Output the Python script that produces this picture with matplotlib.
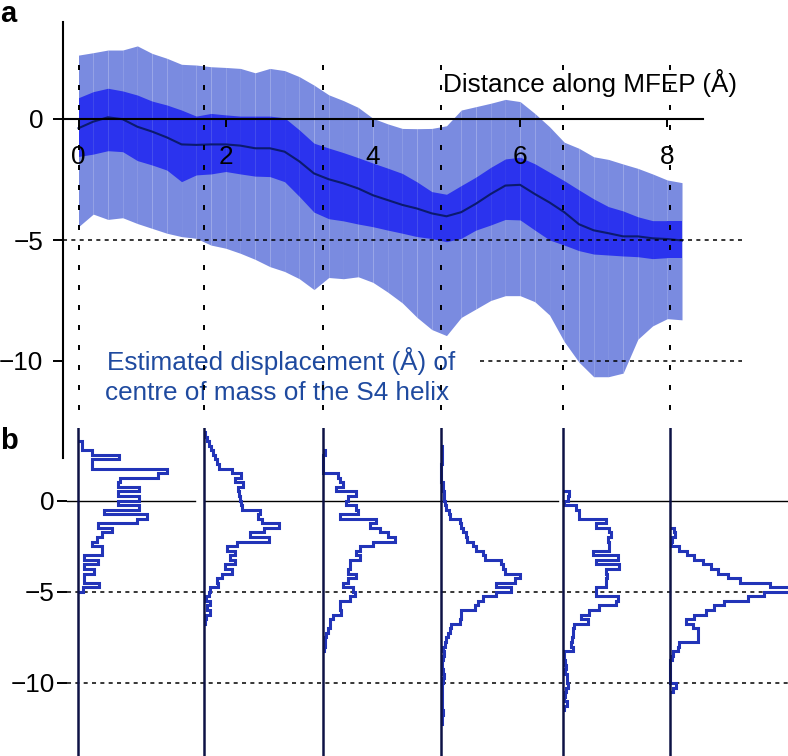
import numpy as np
import matplotlib
matplotlib.use('Agg')
import matplotlib.pyplot as plt

plt.rcParams['font.family'] = ['Liberation Sans', 'DejaVu Sans']
plt.rcParams['lines.scale_dashes'] = False

# ---- panel a: displacement along the MFEP ----
dist = np.round(np.arange(42) * 0.2, 1)
outer_hi = [2.64, 2.74, 2.85, 2.85, 3.02, 2.71, 2.51, 2.26, 2.23, 2.16, 2.13, 2.09, 1.91, 2.09,
            2.0, 1.75, 1.4, 1.0, 0.76, 0.48, 0.03, -0.2, -0.39, -0.4, -0.39, -0.28, 0.37, 0.51,
            0.65, 0.81, 0.72, 0.23, -0.32, -0.96, -1.21, -1.56, -1.67, -1.86, -2.04, -2.27, -2.52, -2.63]
inner_hi = [0.88, 1.13, 1.27, 1.16, 0.99, 0.74, 0.58, 0.37, 0.12, 0.23, 0.17, 0.12, 0.12, 0.12,
            0.05, -0.45, -1.0, -1.2, -1.39, -1.6, -1.82, -2.03, -2.25, -2.6, -3.0, -3.11, -2.75, -2.4,
            -2.0, -1.65, -1.58, -1.85, -2.2, -2.55, -2.93, -3.3, -3.62, -3.8, -4.04, -4.2, -4.2, -4.2]
mean = [-0.38, -0.11, 0.07, -0.01, -0.32, -0.52, -0.76, -1.05, -1.07, -1.05, -1.05, -1.1, -1.21, -1.21,
        -1.35, -1.75, -2.25, -2.49, -2.66, -2.87, -3.15, -3.35, -3.55, -3.7, -3.9, -4.02, -3.85, -3.5,
        -3.1, -2.75, -2.72, -3.1, -3.45, -3.85, -4.35, -4.6, -4.72, -4.85, -4.85, -4.93, -4.96, -5.02]
inner_lo = [-1.55, -1.45, -1.31, -1.35, -1.72, -1.9, -2.11, -2.59, -2.31, -2.27, -2.17, -2.27, -2.36, -2.38,
            -2.59, -3.2, -3.85, -4.12, -4.21, -4.34, -4.45, -4.59, -4.72, -4.86, -4.94, -5.07, -4.93, -4.59,
            -4.38, -4.15, -4.17, -4.59, -5.0, -5.21, -5.44, -5.58, -5.62, -5.66, -5.69, -5.77, -5.73, -5.73]
outer_lo = [-4.45, -3.93, -4.15, -4.08, -4.32, -4.52, -4.72, -4.86, -4.93, -5.21, -5.34, -5.55, -5.8, -6.1,
            -6.3, -6.6, -7.05, -6.55, -6.6, -6.52, -6.75, -7.15, -7.6, -8.2, -8.7, -8.95, -8.2, -7.85,
            -7.5, -7.3, -7.3, -7.55, -8.1, -9.2, -10.05, -10.65, -10.65, -10.5, -9.1, -8.55, -8.25, -8.3]

# positions of the six windows whose histograms are shown in panel b
windows = [0.0, 1.7, 3.32, 4.93, 6.58, 8.04]

# ---- panel b: histograms (0.25 A bins, counting down from the top edge) ----
bin_w = 0.25
h1_top, h1 = 3.25, [12, 12, 40, 122, 40, 40, 265, 240, 125, 120, 182, 120, 182, 120, 182, 77, 205,
                    177, 60, 102, 72, 55, 40, 70, 70, 17, 60, 17, 48, 17, 17, 62, 15]
h2_top, h2 = 3.75, [5, 10, 15, 22, 28, 35, 40, 45, 85, 112, 95, 118, 103, 105, 108, 112, 115, 170,
                    162, 175, 225, 180, 140, 195, 100, 70, 95, 80, 95, 65, 85, 55, 40, 42, 20, 15,
                    8, 20, 10, 20, 8, 5]
h3_top, h3 = 2.75, [5, 0, 0, 0, 0, 45, 50, 60, 40, 100, 75, 70, 100, 105, 50, 160, 140, 170, 195,
                    215, 150, 110, 100, 110, 80, 80, 75, 100, 75, 60, 90, 95, 80, 50, 50, 55, 30,
                    20, 20, 15, 10, 5, 5, 3]
h4_top, h4 = 3.0, [3, 3, 3, 3, 0, 0, 0, 0, 5, 5, 8, 8, 10, 15, 22, 25, 55, 60, 65, 75, 78, 95, 105,
                   125, 130, 180, 185, 190, 235, 220, 165, 210, 165, 125, 110, 100, 60, 60, 55, 30,
                   25, 20, 15, 10, 5, 8, 4, 3, 3, 5, 8, 5, 3, 3, 3, 2, 2, 3, 4, 3, 2]
h5_top, h5 = 0.5, [20, 15, 3, 40, 50, 50, 130, 100, 140, 145, 135, 140, 140, 90, 165, 100, 170, 130,
                   132, 130, 130, 100, 100, 165, 160, 110, 80, 55, 75, 35, 30, 30, 28, 25, 30, 3, 5,
                   8, 10, 8, 12, 12, 15, 10, 8, 5, 12, 5]
h6_top, h6 = -1.5, [10, 15, 5, 2, 25, 50, 72, 97, 122, 142, 172, 210, 300, 420, 282, 232, 162, 132,
                    107, 72, 47, 67, 84, 84, 84, 27, 22, 7, 4, 0, 0, 0, 0, 0, 17, 8]
hists = [(h1_top, h1), (h2_top, h2), (h3_top, h3), (h4_top, h4), (h5_top, h5), (h6_top, h6)]
hist_scale = 1 / 220.8   # counts -> Angstrom of panel width

light = '#7a8be0'
dark = '#2b33ee'
navy = '#0b1a6e'
hist_col = '#2234b8'
text_blue = '#1f4a9f'
fs = 18.8

fig = plt.figure(figsize=(7.88, 7.56), dpi=100)
axb = fig.add_axes([67 / 788, 0.0, 721 / 788, 328.5 / 756])
axa = fig.add_axes([63 / 788, (756 - 457.8) / 756, 725 / 788, 435.6 / 756])
for ax in (axa, axb):
    ax.set_facecolor('none')
    ax.set_ylim(-14, 4)
axa.set_xlim(-0.2106, 9.64)
axb.set_xlim(-0.156, 9.64)

# bands drawn piecewise (gives the faint vertical seams of the original)
for i in range(len(dist) - 1):
    s = slice(i, i + 2)
    axa.fill_between(dist[s], outer_lo[s], outer_hi[s], color=light, lw=0)
for i in range(len(dist) - 1):
    s = slice(i, i + 2)
    axa.fill_between(dist[s], inner_lo[s], inner_hi[s], color=dark, lw=0)
axa.plot(dist, mean, color=navy, lw=1.5, zorder=4)

for xp in windows:
    axa.plot([xp, xp], [2.23, -12.15], color='black', lw=1.4, dashes=(3.6, 10.8), zorder=5)
axa.plot([-0.21, 9.01], [-5, -5], color='black', lw=1.1, dashes=(2.9, 3.1), zorder=5)
axa.plot([5.45, 9.01], [-10, -10], color='black', lw=1.1, dashes=(2.9, 3.1), zorder=5)

for sp in ('top', 'right'):
    axa.spines[sp].set_visible(False)
axa.spines['bottom'].set_position(('data', 0))
axa.spines['bottom'].set_bounds(-0.2106, 8.49)
axa.spines['bottom'].set_linewidth(1.5)
axa.spines['left'].set_linewidth(1.5)
axa.spines['bottom'].set_zorder(6)
axa.set_xticks([0, 2, 4, 6, 8])
axa.set_yticks([0, -5, -10])
axa.tick_params(axis='x', direction='out', length=5.8, width=1.4, pad=13, labelsize=fs)
axa.tick_params(axis='y', direction='out', length=7.2, width=1.4, pad=7, labelsize=fs)

axa.text(4.95, 1.12, 'Distance along MFEP (Å)', fontsize=fs, ha='left', va='baseline')
axa.text(0.39, -10.37, 'Estimated displacement (Å) of', fontsize=fs, color=text_blue, va='baseline')
axa.text(0.36, -11.61, 'centre of mass of the S4 helix', fontsize=fs, color=text_blue, va='baseline')

# panel b
for sp in axb.spines.values():
    sp.set_visible(False)
axb.set_xticks([])
axb.set_yticks([0, -5, -10])
axb.tick_params(axis='y', direction='out', length=7.2, width=1.4, pad=1.5, labelsize=fs)
zero_segments = [(-0.156, 1.58), (1.72, 6.52), (6.58, 9.64)]
for x0, x1 in zero_segments:
    axb.plot([x0, x1], [0, 0], color='black', lw=1.0)
for yv in (-5, -10):
    axb.plot([-0.156, 9.64], [yv, yv], color='black', lw=1.1, dashes=(2.9, 3.1))
for xp, (top, vals) in zip(windows, hists):
    vals = np.array(vals, dtype=float)
    edges = top - bin_w * np.arange(len(vals) + 1)
    axb.stairs((xp + vals * hist_scale)[::-1], edges[::-1], baseline=xp,
               orientation='horizontal', color=hist_col, lw=2.2, zorder=3)
    axb.plot([xp, xp], [-14, 4], color='#0d1245', lw=1.8, zorder=4)

fig.text(0.0, 1 - 22 / 756, 'a', fontsize=21, fontweight='bold', va='baseline')
fig.text(0.0, 1 - 449 / 756, 'b', fontsize=21, fontweight='bold', va='baseline')

fig.savefig('out.png', dpi=100)
